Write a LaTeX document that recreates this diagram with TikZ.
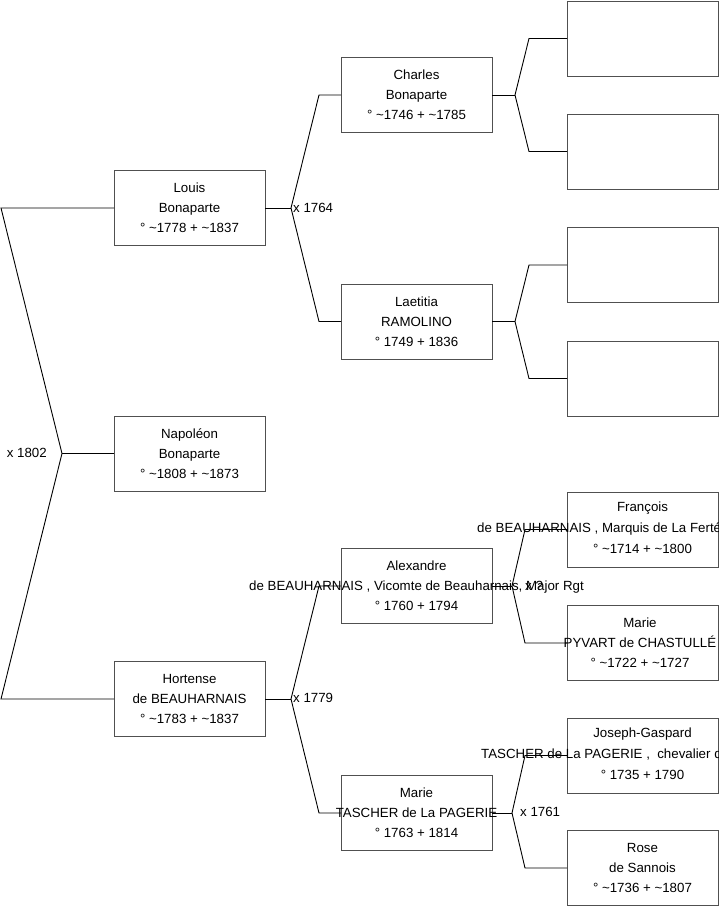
\documentclass[tikz,border=0pt]{standalone}
\usepackage{fontspec}
\setmainfont{Liberation Sans}
\usetikzlibrary{calc}
\definecolor{boxline}{RGB}{80,80,80}
\tikzset{
  pbox/.style={draw=boxline, line width=1pt, minimum width=151pt, minimum height=75pt, inner sep=0pt, outer sep=0pt, fill=white},
  ptxt/.style={align=center, inner sep=0pt, font={\fontsize{13.3}{20}\selectfont}},
  conn/.style={draw=black, line width=0.9pt},
  mlab/.style={inner sep=0pt, font={\fontsize{13.3}{16}\selectfont}},
}
\newcommand\famfork[5]{%
  \draw[conn] (#1.east) -- ++(#4,0) coordinate (#1-v);
  \path (#1-v) ++(#5,0) coordinate (#1-e);
  \draw[conn] (#1-v) -- (#1-e |- #2.west) -- (#2.west);
  \draw[conn] (#1-v) -- (#1-e |- #3.west) -- (#3.west);
}
\begin{document}
\begin{tikzpicture}[x=1pt,y=-1pt]
\clip (0,0) rectangle (719,908);
\fill[white] (0,0) rectangle (719,908);
% column 1
\node[pbox] (louis) at (189.5,208) {};
\node[pbox] (napoleon) at (189.5,453.5) {};
\node[pbox] (hortense) at (189.5,699) {};
% column 2
\node[pbox] (charles) at (416.5,95) {};
\node[pbox] (laetitia) at (416.5,321.5) {};
\node[pbox] (alexandre) at (416.5,586) {};
\node[pbox] (mariet) at (416.5,813) {};
% column 3
\node[pbox] (c1) at (642.5,38.5) {};
\node[pbox] (c2) at (642.5,151.5) {};
\node[pbox] (c3) at (642.5,265) {};
\node[pbox] (c4) at (642.5,378.5) {};
\node[pbox] (francois) at (642.5,529.5) {};
\node[pbox] (mariep) at (642.5,643) {};
\node[pbox] (joseph) at (642.5,755.5) {};
\node[pbox] (rose) at (642.5,868) {};

% root fork (to the left)
\coordinate (root-v) at (62,453.5);
\coordinate (root-e) at (1,453.5);
\draw[conn] (napoleon.west) -- (root-v);
\draw[conn] (root-v) -- (root-e |- louis.west) -- (louis.west);
\draw[conn] (root-v) -- (root-e |- hortense.west) -- (hortense.west);
\node[mlab, anchor=east] (m1802) at (47,453) {x 1802};

% forks
\famfork{louis}{charles}{laetitia}{26}{28}
\famfork{hortense}{alexandre}{mariet}{26}{28}
\famfork{charles}{c1}{c2}{23}{14}
\famfork{laetitia}{c3}{c4}{23}{14}
\famfork{alexandre}{francois}{mariep}{20}{13}
\famfork{mariet}{joseph}{rose}{20}{13}

\node[mlab, anchor=west] (m1764) at (293,208) {x 1764};
\node[mlab, anchor=west] (m1779) at (293,698) {x 1779};
\node[mlab, anchor=west] (m1761) at (520,812) {x 1761};

% texts
\node[ptxt] at (louis) {Louis\\Bonaparte\\° \textasciitilde1778 + \textasciitilde1837};
\node[ptxt] at (napoleon) {Napoléon\\Bonaparte\\° \textasciitilde1808 + \textasciitilde1873};
\node[ptxt] at (hortense) {Hortense\\de BEAUHARNAIS\\° \textasciitilde1783 + \textasciitilde1837};
\node[ptxt] at (charles) {Charles\\Bonaparte\\° \textasciitilde1746 + \textasciitilde1785};
\node[ptxt] at (laetitia) {Laetitia\\RAMOLINO\\° 1749 + 1836};
\node[ptxt] at (alexandre) {Alexandre\\de BEAUHARNAIS , Vicomte de Beauharnais, Major Rgt\\° 1760 + 1794};
\node[mlab, anchor=west] (mq) at (525,586) {x ?};
\node[ptxt] at (mariet) {Marie\\TASCHER de La PAGERIE\\° 1763 + 1814};
% clipped texts
\node[ptxt] at ($(francois)+(0,-21)$) {François};
\node[ptxt, anchor=west] at (477,528.5) {de BEAUHARNAIS , Marquis de La Ferté};
\node[ptxt] at ($(francois)+(0,19)$) {° \textasciitilde1714 + \textasciitilde1800};
\node[ptxt] at (640,643) {Marie\\PYVART de CHASTULLÉ\\° \textasciitilde1722 + \textasciitilde1727};
\node[ptxt] at ($(joseph)+(0,-21)$) {Joseph-Gaspard};
\node[ptxt, anchor=west] at (481,755) {TASCHER de La PAGERIE ,\ \ chevalier d};
\node[ptxt] at ($(joseph)+(0,19)$) {° 1735 + 1790};
\node[ptxt] at (rose) {Rose\\de Sannois\\° \textasciitilde1736 + \textasciitilde1807};
\end{tikzpicture}
\end{document}
